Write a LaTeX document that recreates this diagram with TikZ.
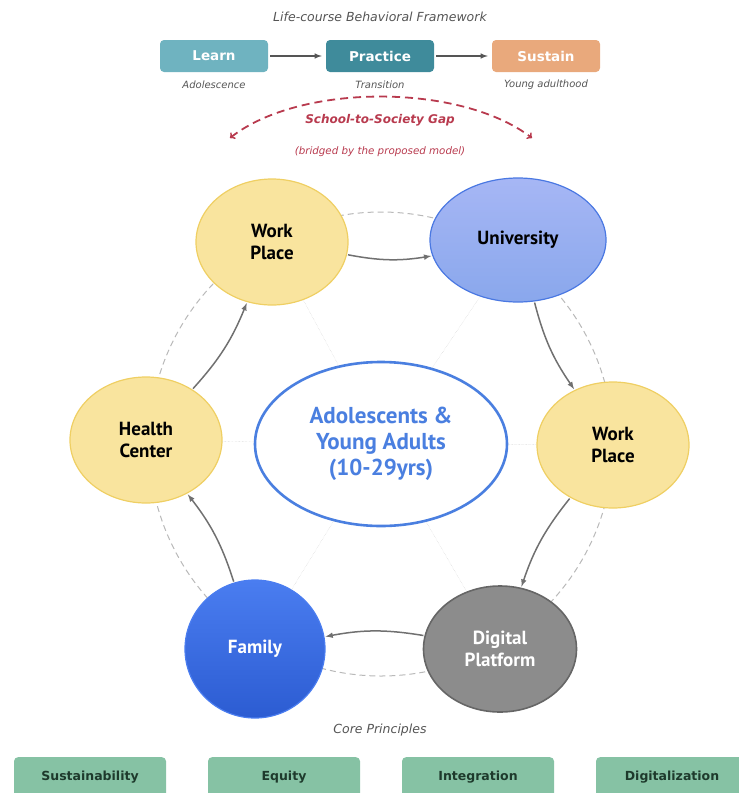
\documentclass[tikz,border=0pt]{standalone}
\usepackage{fontspec}
\setmainfont{DejaVu Sans}
\newfontfamily\placefont{PT Sans}
\usetikzlibrary{shapes.geometric,backgrounds}
\definecolor{learnc}{HTML}{6FB3C0}
\definecolor{practicec}{HTML}{3F8B9B}
\definecolor{sustainc}{HTML}{E9A97C}
\definecolor{txtgray}{HTML}{555555}
\definecolor{gapred}{HTML}{B83A4E}
\definecolor{wpfill}{HTML}{F9E49E}
\definecolor{wpdraw}{HTML}{EFCF63}
\definecolor{unidraw}{HTML}{4A78E2}
\definecolor{centerblue}{HTML}{4A7FE0}
\definecolor{famtop}{HTML}{4A7DF0}
\definecolor{fambot}{HTML}{2C5CD2}
\definecolor{digfill}{HTML}{8C8C8C}
\definecolor{flowgray}{HTML}{707070}
\definecolor{principlec}{HTML}{86C2A4}
\definecolor{principletxt}{HTML}{1E3A2C}

\begin{document}
\begin{tikzpicture}[x=1pt,y=-1pt,node distance=166pt,
  stage/.style={rounded corners=4pt,minimum width=108pt,minimum height=32pt,inner sep=0pt,text=white,font=\bfseries\fontsize{13.5}{15}\selectfont},
  note/.style={text=txtgray,font=\itshape\fontsize{10}{12}\selectfont},
  place/.style={ellipse,draw,line width=1.2pt,inner sep=0pt,align=center,font=\placefont\bfseries\fontsize{19}{21.5}\selectfont},
  work/.style={place,fill=wpfill,draw=wpdraw,minimum width=152pt,minimum height=126pt},
  flow/.style={-latex,draw=flowgray,line width=1.5pt,shorten >=1pt,shorten <=1pt},
  step arrow/.style={-latex,draw=txtgray,line width=1.5pt,shorten >=4pt,shorten <=2pt},
  spoke/.style={densely dotted,draw=gray!40},
  ring/.style={dash pattern=on 6pt off 4pt,draw=gray!55,line width=1pt},
  principle/.style={rounded corners=4pt,fill=principlec,minimum width=152pt,minimum height=40pt,anchor=north,text=principletxt,font=\bfseries\fontsize{12.5}{14}\selectfont}]
\useasboundingbox (0,0) rectangle (739,793);

\node[text=txtgray,font=\itshape\fontsize{12.5}{14}\selectfont] (title) at (380,17) {Life-course Behavioral Framework};
\node[stage,fill=learnc] (learn) at (214,56) {Learn};
\node[stage,fill=practicec] (practice) [right of=learn] {Practice};
\node[stage,fill=sustainc] (sustain) [right of=practice] {Sustain};
\draw[step arrow] (learn) -- (practice);
\draw[step arrow] (practice) -- (sustain);
\node[note] (n1) at (214,85) {Adolescence};
\node[note] (n2) at (380,85) {Transition};
\node[note] (n3) at (546,85) {Young adulthood};

\coordinate (g1) at (230,138);
\coordinate (g2) at (532,138);
\draw[<->,dash pattern=on 8pt off 5pt,draw=gapred,line width=1.8pt] (g1) .. controls (300,83) and (460,83) .. (g2);
\node[text=gapred,font=\bfseries\itshape\fontsize{12}{14}\selectfont] (gap) at (380,120) {School-to-Society Gap};
\node[text=gapred,font=\itshape\fontsize{10.3}{12}\selectfont] (bridge) at (380,152) {(bridged by the proposed model)};

\node[ellipse,draw=centerblue,line width=2.6pt,fill=white,minimum width=252pt,minimum height=164pt,align=center,text=centerblue,font=\placefont\bfseries\fontsize{23}{26}\selectfont] (c) at (381,444) {Adolescents \&\\Young Adults\\(10-29yrs)};
\node[work] (1) at (272,242) {Work\\Place};
\node[place,draw=unidraw,top color=blue!22!unidraw!45!white,bottom color=unidraw!65!white,minimum width=176pt,minimum height=124pt] (2) at (518,240) {University};
\node[work] (3) at (613,445) {Work\\Place};
\node[place,draw=black!60,line width=1.6pt,fill=digfill,text=white,minimum width=153pt,minimum height=126pt] (4) at (500,649) {Digital\\Platform};
\node[place,draw=famtop,top color=famtop,bottom color=fambot,text=white,minimum width=140pt,minimum height=138pt] (5) at (255,649) {Family};
\node[work] (6) at (146,440) {Health\\Center};

\begin{scope}[on background layer]
\draw[ring] (c.center) circle (232);
\end{scope}
\draw[spoke] (c) -- (1);
\draw[spoke] (c) -- (2);
\draw[spoke] (c) -- (3);
\draw[spoke] (c) -- (4);
\draw[spoke] (c) -- (5);
\draw[spoke] (c) -- (6);

\draw[flow] (1) to[bend right=10] (2);
\draw[flow] (2) to[bend right=10] (3);
\draw[flow] (3) to[bend right=10] (4);
\draw[flow] (4) to[bend right=10] (5);
\draw[flow] (5) to[bend right=10] (6);
\draw[flow] (6) to[bend right=10] (1);

\node[text=txtgray,font=\itshape\fontsize{12.5}{14}\selectfont] (core) at (380,730) {Core Principles};
\begin{scope}[node distance=194pt]
\node[principle] (p1) at (90,757) {Sustainability};
\node[principle] (p2) [right of=p1] {Equity};
\node[principle] (p3) [right of=p2] {Integration};
\node[principle] (p4) [right of=p3] {Digitalization};
\end{scope}
\end{tikzpicture}
\end{document}
